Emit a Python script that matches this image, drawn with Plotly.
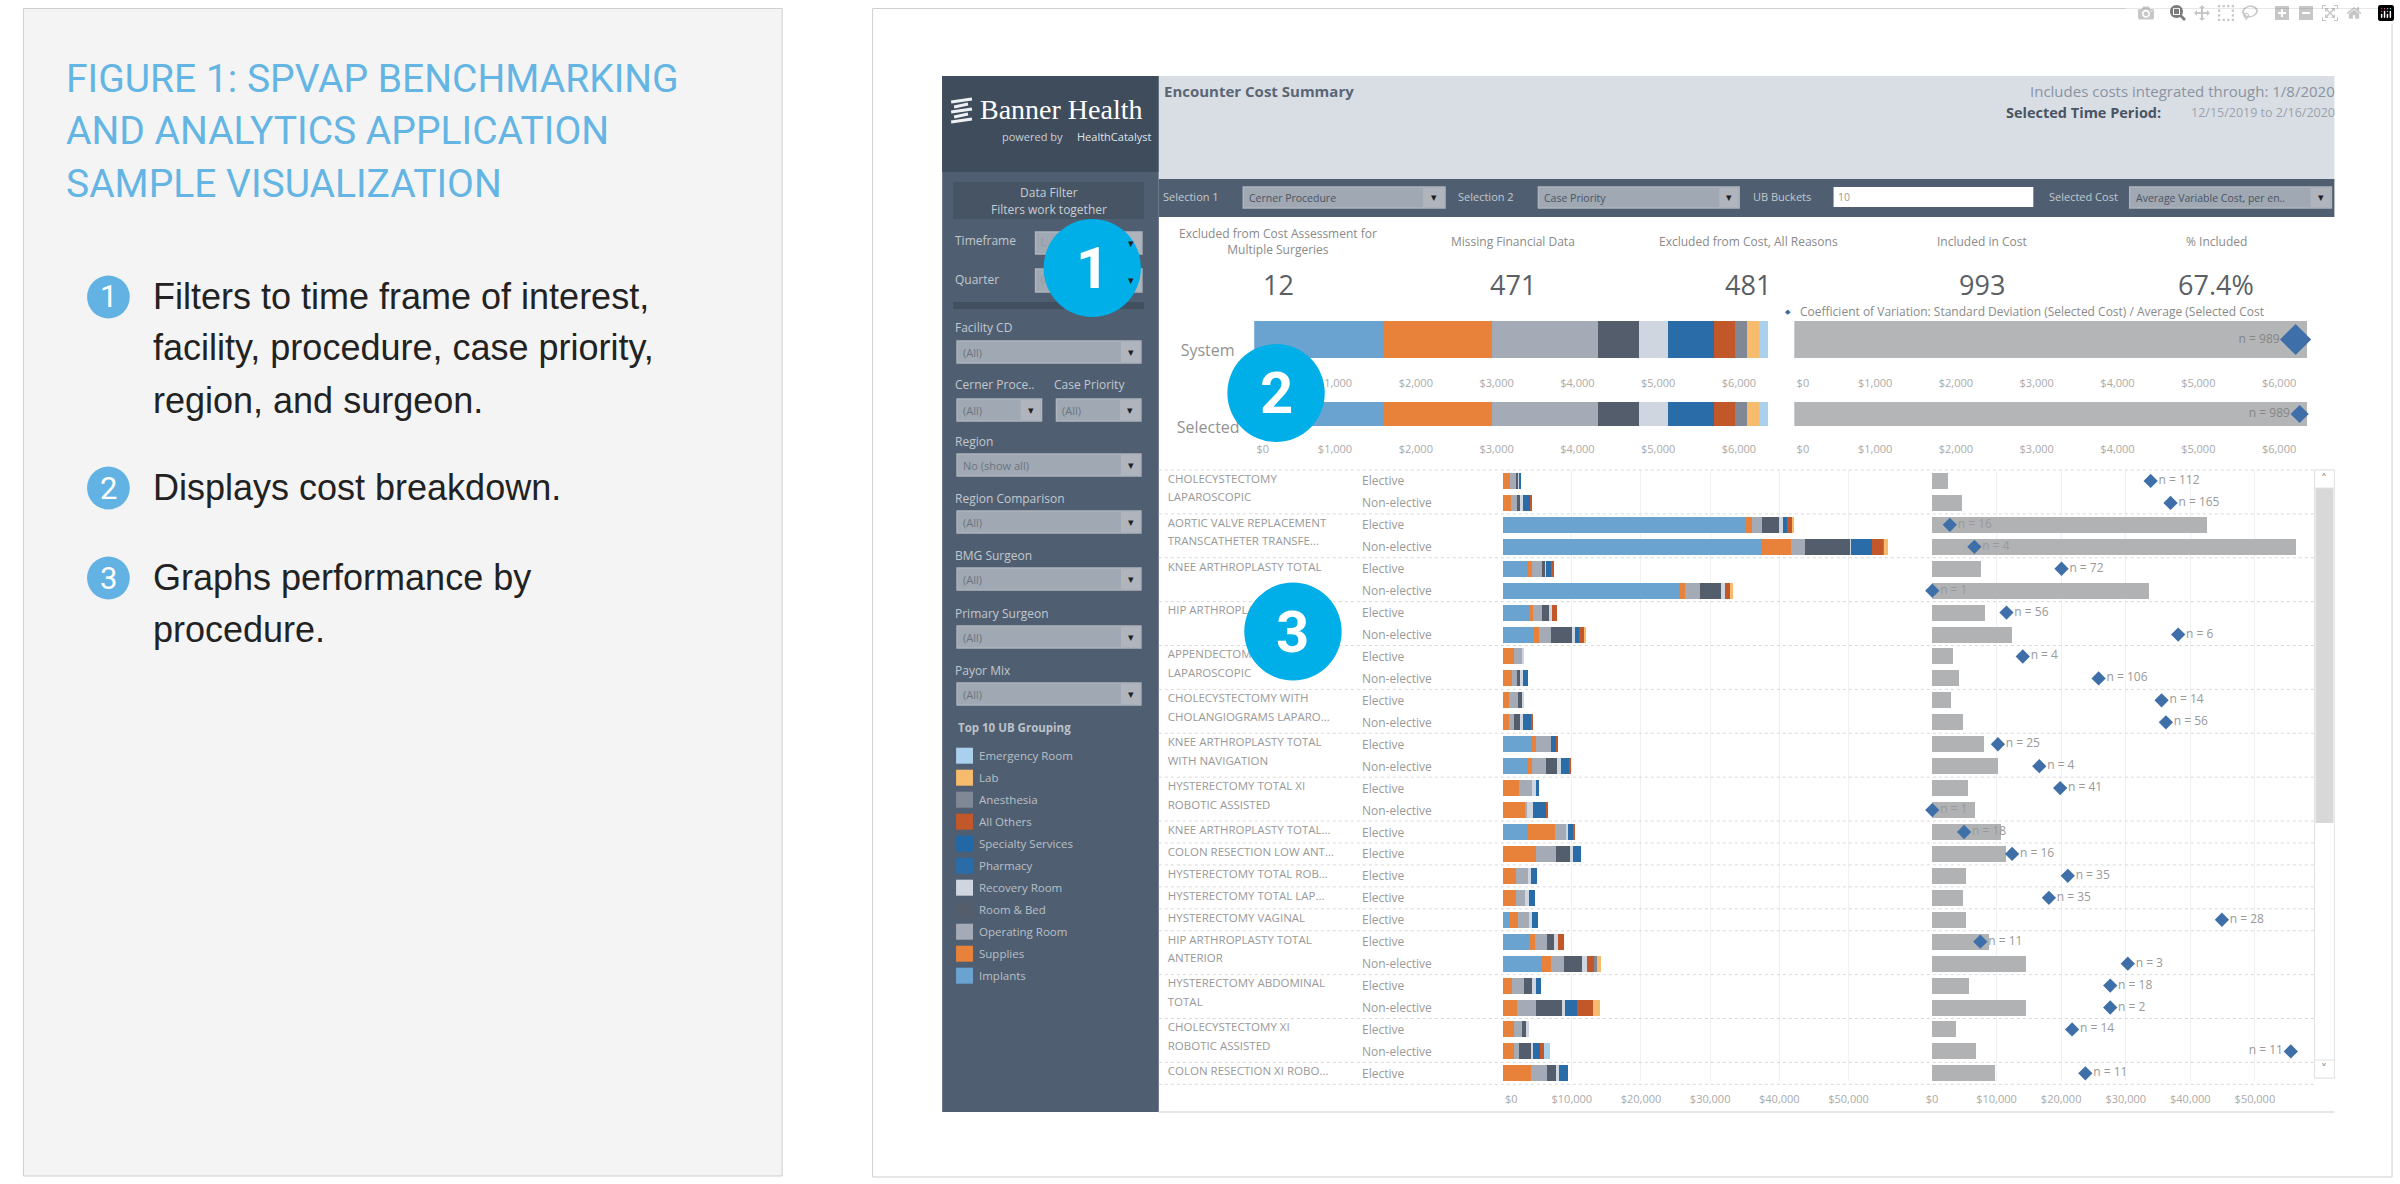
import plotly.graph_objects as go

W, H = 2400, 1184
FONT = "Open Sans"
GRAY = "#9a9a9a"

# top summary
SUMMARY_TITLES = ["Excluded from Cost Assessment for<br>Multiple Surgeries", "Missing Financial Data",
                  "Excluded from Cost, All Reasons", "Included in Cost", "% Included"]
SUMMARY_VALUES = ["12", "471", "481", "993", "67.4%"]

# UB groups, bottom of the stack first
IMPLANTS = [0, 0, 35040, 37530, 3670, 25660, 3810, 4400, 0, 0, 0, 0, 4100, 3450, 0, 0, 3590, 0, 0, 0, 1030, 3810, 5570, 0, 0, 0, 0, 0]
SUPPLIES = [1030, 1170, 1030, 4100, 590, 730, 590, 880, 1610, 1320, 950, 950, 660, 810, 2420, 3300, 3960, 4840, 1910, 1910, 1170, 880, 1390, 1320, 2050, 1690, 1610, 4030]
OPERATING = [950, 880, 1470, 2050, 1470, 2200, 1320, 1760, 1170, 730, 1250, 660, 2200, 1980, 1830, 220, 1610, 2930, 1760, 1390, 1610, 1760, 1910, 1760, 2710, 1100, 730, 2420]
ROOM_BED = [220, 440, 2350, 6600, 370, 2930, 1030, 2930, 0, 440, 590, 950, 220, 1690, 0, 0, 0, 1910, 0, 0, 0, 1030, 2640, 1170, 3810, 590, 1760, 1320]
RECOVERY = [150, 440, 590, 150, 220, 590, 370, 440, 290, 440, 220, 440, 0, 440, 510, 880, 220, 440, 440, 510, 440, 590, 660, 510, 510, 370, 290, 440]
PHARMACY = [290, 1100, 590, 2930, 730, 0, 0, 590, 0, 730, 0, 1030, 510, 1170, 510, 1830, 730, 1170, 880, 810, 880, 0, 0, 730, 1610, 0, 950, 1250]
OTHERS = [0, 220, 730, 1610, 440, 730, 810, 730, 0, 0, 0, 370, 220, 290, 0, 370, 370, 0, 0, 0, 0, 730, 1030, 0, 2350, 0, 660, 0]
ANESTHESIA = [0, 0, 0, 220, 0, 0, 0, 0, 0, 0, 0, 0, 0, 0, 0, 0, 0, 0, 0, 0, 0, 0, 440, 0, 0, 0, 0, 0]
LAB = [0, 0, 370, 510, 0, 440, 0, 290, 0, 0, 0, 0, 0, 0, 0, 0, 0, 0, 0, 0, 0, 0, 510, 0, 1100, 0, 0, 0]
ER = [0, 0, 0, 0, 0, 0, 0, 0, 0, 0, 0, 0, 0, 0, 0, 0, 0, 0, 0, 0, 0, 0, 0, 0, 0, 0, 880, 0]

SYSTEM_COST = [1611, 1328, 1316, 504, 364, 570, 253, 154, 148, 106]
SELECTED_COST = [1611, 1328, 1316, 504, 364, 570, 253, 154, 148, 106]
CV_TOTAL = 6347
CV_SYSTEM, CV_SELECTED = 6205, 6255
N_TOTAL = 989

GROUP_NAMES = ["Implants", "Supplies", "Operating Room", "Room & Bed", "Recovery Room",
               "Pharmacy", "All Others", "Anesthesia", "Lab", "Emergency Room"]
GROUP_VALUES = [IMPLANTS, SUPPLIES, OPERATING, ROOM_BED, RECOVERY, PHARMACY, OTHERS, ANESTHESIA, LAB, ER]
GROUP_COLORS = ["#6aa3d0", "#e8823a", "#a4abb7", "#535d6b", "#d0d6e0", "#2a6ca8", "#c2572a", "#7f8894", "#f6bb6c", "#a9d0ec"]

LEGEND_NAMES = ["Emergency Room", "Lab", "Anesthesia", "All Others", "Specialty Services", "Pharmacy",
                "Recovery Room", "Room & Bed", "Operating Room", "Supplies", "Implants"]
LEGEND_COLORS = ["#a9d0ec", "#f6bb6c", "#7f8894", "#c2572a", "#2267a6", "#2a6ca8", "#d0d6e0", "#535d6b", "#a4abb7", "#e8823a", "#6aa3d0"]

# procedures and rows
PROCEDURES = [["CHOLECYSTECTOMY", "LAPAROSCOPIC"], ["AORTIC VALVE REPLACEMENT", "TRANSCATHETER TRANSFE..."],
              ["KNEE ARTHROPLASTY TOTAL"], ["HIP ARTHROPLASTY TOTAL"], ["APPENDECTOMY", "LAPAROSCOPIC"],
              ["CHOLECYSTECTOMY WITH", "CHOLANGIOGRAMS LAPARO..."], ["KNEE ARTHROPLASTY TOTAL", "WITH NAVIGATION"],
              ["HYSTERECTOMY TOTAL XI", "ROBOTIC ASSISTED"], ["KNEE ARTHROPLASTY TOTAL..."], ["COLON RESECTION LOW ANT..."],
              ["HYSTERECTOMY TOTAL ROB..."], ["HYSTERECTOMY TOTAL LAP..."], ["HYSTERECTOMY VAGINAL"],
              ["HIP ARTHROPLASTY TOTAL", "ANTERIOR"], ["HYSTERECTOMY ABDOMINAL", "TOTAL"],
              ["CHOLECYSTECTOMY XI", "ROBOTIC ASSISTED"], ["COLON RESECTION XI ROBO..."]]
PROCEDURE_ROWS = [2, 2, 2, 2, 2, 2, 2, 2, 1, 1, 1, 1, 1, 2, 2, 2, 1]
PRIORITIES = ["Elective", "Non-elective"]

CV_BARS = [2510, 4670, 42580, 56330, 7590, 33650, 8260, 12470, 3230, 4160, 2980, 4870, 8000, 10160,
           5540, 6720, 10670, 11540, 5230, 4870, 5340, 8870, 14520, 5690, 14520, 3800, 6870, 9800]
CV_POINTS = [33860, 36940, 2770, 6570, 20060, 50, 11540, 38120, 14060, 25800, 35550, 36220, 10210, 16620,
             19850, 50, 4980, 12410, 21030, 18110, 44890, 7490, 30320, 27600, 27600, 21700, 55560, 23750]
N_COUNTS = [112, 165, 16, 4, 72, 1, 56, 6, 4, 106, 14, 56, 25, 4, 41, 1, 18, 16, 35, 35, 28, 11, 3, 18, 2, 14, 11, 11]

TOP_TICKS = [0, 1000, 2000, 3000, 4000, 5000, 6000]
TOP_LABELS = ["\u00a0\u00a0\u00a0\u00a0\u00a0\u00a0$0", "$1,000", "$2,000", "$3,000", "$4,000", "$5,000", "$6,000"]
ROW_TICKS = [0, 10000, 20000, 30000, 40000, 50000]
ROW_LABELS = ["$0", "$10,000", "$20,000", "$30,000", "$40,000", "$50,000"]

# sidebar filters: label, shown value
FILTERS = [("Facility CD", "(All)"), ("Region", "No (show all)"), ("Region Comparison", "(All)"),
           ("BMG Surgeon", "(All)"), ("Primary Surgeon", "(All)"), ("Payor Mix", "(All)")]
FILTER_TOPS = [341, 454, 511, 568, 626, 683]

shapes, annotations = [], []


def fx(p):
    return p / W


def fy(p):
    return 1 - p / H


def rect(x0, y0, x1, y1, fill, line=None, layer="below", width=1):
    shapes.append(dict(type="rect", xref="paper", yref="paper", x0=fx(x0), x1=fx(x1), y0=fy(y0), y1=fy(y1),
                       fillcolor=fill, line=dict(color=line or fill, width=width if line else 0), layer=layer))


def hline(x0, x1, y, color, dash="solid", width=1, layer="below"):
    shapes.append(dict(type="line", xref="paper", yref="paper", x0=fx(x0), x1=fx(x1), y0=fy(y), y1=fy(y),
                       line=dict(color=color, width=width, dash=dash), layer=layer))


def circle(cx, cy, r, fill):
    shapes.append(dict(type="circle", xref="paper", yref="paper", x0=fx(cx - r), x1=fx(cx + r), y0=fy(cy + r), y1=fy(cy - r),
                       fillcolor=fill, line=dict(width=0), layer="above"))


def label(x, y, text, size, color, anchor="left", family=FONT):
    annotations.append(dict(xref="paper", yref="paper", x=fx(x), y=fy(y), text=text, showarrow=False, xanchor=anchor,
                            yanchor="middle", align=anchor, borderpad=0,
                            font=dict(family=family, size=size, color=color)))


def dropdown(x0, y0, x1, y1, text, arrow_x):
    rect(x0, y0, x1, y1, "#a0a8b3", "#aeb4bc", width=1.5)
    rect(arrow_x, y0 + 1, x1 - 1, y1 - 1, "#b0b5bd")
    label((arrow_x + x1) / 2, (y0 + y1) / 2, "\u25be", 11, "#1f1f1f", "center", "DejaVu Sans")
    return (x0 + 5, (y0 + y1) / 2, text)


# panels
rect(8.5, 8.5, 772, 1176, "#f4f4f4", "#cfcfcf")
rect(863, 8.5, 2392, 1177, "#ffffff", "#cfcfcf")

# left panel text
TITLE_LINES = ["FIGURE 1: SPVAP BENCHMARKING", "AND ANALYTICS APPLICATION", "SAMPLE VISUALIZATION"]
for y, line in zip([79, 131, 184], TITLE_LINES):
    label(50, y, line, 39, "#64b5e4", family="Roboto")
NOTES = [(297, "1", ["Filters to time frame of interest,", "facility, procedure, case priority,", "region, and surgeon."]),
         (488, "2", ["Displays cost breakdown."]),
         (578, "3", ["Graphs performance by", "procedure."])]
for cy, num, lines in NOTES:
    circle(94, cy, 21.5, "#62b3e3")
    label(94, cy, num, 31, "#ffffff", "center", "Roboto")
    for i, line in enumerate(lines):
        label(138, cy - 1 + i * 52, line, 36, "#222222", family="Liberation Sans")

# dashboard frame
rect(933, 76, 1151, 1112, "#4f5f71")
rect(933, 76, 1151, 172, "#3f4c5c")
rect(1151, 76, 2334, 180, "#d9dee5")
rect(1151, 179, 2334, 217, "#4f5f71")
hline(1151, 2334, 1112, "#e6e6e6", width=2)

# logo
for i, y in enumerate([101, 106, 111, 116, 121]):
    shapes.append(dict(type="line", xref="paper", yref="paper", x0=fx(942 + i % 2 * 3), x1=fx(963 - i % 2 * 4), y0=fy(y + 1), y1=fy(y - 2),
                       line=dict(color="#eef0f3", width=3), layer="below"))
label(970, 110, "Banner Health", 28, "#ffffff", family="Liberation Serif")
label(992, 137, "powered by", 11, "#c8ced6")
label(1068, 137, "HealthCatalyst", 11, "#dfe3e8")

# header
label(1155, 91, "<b>Encounter Cost Summary</b>", 15, "#5a6675")
label(2336, 91, "Includes costs integrated through: 1/8/2020", 15, "#8b93a0", "right")
label(2160, 113, "<b>Selected Time Period:</b>", 14.5, "#4a5563", "right")
label(2336, 113, "12/15/2019 to 2/16/2020", 12.5, "#9aa2ae", "right")

# selection bar
BAR_TEXT = "#c3c8cf"
label(1154, 196, "Selection 1", 11, BAR_TEXT)
label(1451, 196, "Selection 2", 11, BAR_TEXT)
label(1748, 196, "UB Buckets", 11, BAR_TEXT)
label(2046, 196, "Selected Cost", 11, BAR_TEXT)
for x0, x1, ax, text in [(1236, 1439, 1417, "Cerner Procedure"), (1533, 1735, 1715, "Case Priority"),
                         (2128, 2331, 2310, "Average Variable Cost, per en..")]:
    x, y, t = dropdown(x0, 187, x1, 208, text, ax)
    label(x, y, t, 10.5, "#4a5563")
rect(1830, 187, 2031, 207, "#ffffff")
label(1833, 197, "10", 10.5, "#9a9a9a")

# sidebar
rect(944, 182, 1136, 219, "#465463")
label(1040, 192, "Data Filter", 12, "#c9ced5", "center")
label(1040, 209.5, "Filters work together", 12, "#c9ced5", "center")
label(945, 240, "Timeframe", 12, "#c3c8cf")
label(945, 279, "Quarter", 12, "#c3c8cf")
rect(944, 302, 1136, 309, "#414f5e")

hidden_text = []  # text the big circles sit on top of, drawn as a trace
hidden_text.append(dropdown(1027, 232, 1134, 254, "L", 1113))
hidden_text.append(dropdown(1027, 269, 1134, 292, "(All)", 1113))
for (name, value), top in zip(FILTERS, FILTER_TOPS):
    label(945, top - 13, name, 12, "#c3c8cf")
    x, y, t = dropdown(948, top, 1133, top + 22, value, 1113)
    label(x, y, t, 11, "#6b7480")
label(945, 385, "Cerner Proce..", 12, "#c3c8cf")
label(1045, 385, "Case Priority", 12, "#c3c8cf")
for x0, x1, ax in [(948, 1033, 1012), (1048, 1133, 1112)]:
    x, y, t = dropdown(x0, 399, x1, 421, "(All)", ax)
    label(x, y, t, 11, "#6b7480")

label(948, 727, "<b>Top 10 UB Grouping</b>", 11.5, "#bcc2ca")
for i, (name, color) in enumerate(zip(LEGEND_NAMES, LEGEND_COLORS)):
    y = 755.7 + i * 22
    rect(947, y - 8, 964, y + 8, color)
    label(969, y, name, 11.5, "#b9bfc7")

# summary row
for cx, title, value in zip([1271, 1507, 1744, 1979, 2215], SUMMARY_TITLES, SUMMARY_VALUES):
    label(cx, 241.5, title, 12, "#8a8a8a", "center")
    label(cx, 284, value, 27, "#5a5f66", "center")
label(1784, 312, "\u25c6", 7, "#3c6aa8", "center", "DejaVu Sans")
label(1795, 312, "Coefficient of Variation: Standard Deviation (Selected Cost) / Average (Selected Cost", 12, "#8a8a8a")

fig = go.Figure()


def x_axis(px0, px1, scale, anchor, ticks, text, ticklen, grid=False):
    return dict(domain=[fx(px0), fx(px1)], range=[0, (px1 - px0) / scale], anchor=anchor, tickvals=ticks, ticktext=text,
                ticks="outside", ticklen=ticklen, tickcolor="rgba(0,0,0,0)", showline=False, zeroline=False,
                showgrid=grid, gridcolor="#f1f1f1", tickfont=dict(family=FONT, size=11, color="#aaaaaa"))


def y_axis(px0, px1, rng, anchor):
    return dict(domain=[fy(px1), fy(px0)], range=rng, anchor=anchor, visible=False)


# system / selected stacked bars and cv bars
TOP_PANELS = [("x", "y", "x2", "y2", 321, 358, SYSTEM_COST, CV_SYSTEM, 24, 15, "n = %d" % N_TOTAL),
              ("x3", "y3", "x4", "y4", 402, 426, SELECTED_COST, CV_SELECTED, 14, 15, "n = %d" % N_TOTAL)]
axes = {}
for n, (xa, ya, xb, yb, top, bottom, cost, cv, size, ticklen, n_text) in enumerate(TOP_PANELS):
    for name, value, color in zip(GROUP_NAMES, cost, GROUP_COLORS):
        fig.add_trace(go.Bar(x=[value], y=[0], width=1, orientation="h", name=name, marker=dict(color=color, line=dict(width=0)),
                             xaxis=xa, yaxis=ya))
    fig.add_trace(go.Bar(x=[CV_TOTAL], y=[0], width=1, orientation="h", marker=dict(color="#b3b5b7", line=dict(width=0)),
                         xaxis=xb, yaxis=yb))
    fig.add_trace(go.Scatter(x=[cv], y=[0], mode="markers+text", text=[n_text], textposition="middle left",
                             textfont=dict(family=FONT, size=12, color="#858585"), cliponaxis=False,
                             marker=dict(symbol="diamond", size=size, color="#3f6fa8"), xaxis=xb, yaxis=yb))
    suffix = ["", "2", "3", "4"]
    ida, idb = suffix[n * 2], suffix[n * 2 + 1]
    axes["xaxis" + ida] = x_axis(1247, 1780, 0.0813, ya, TOP_TICKS, TOP_LABELS, ticklen if n == 0 else 13)
    axes["yaxis" + ida] = y_axis(top, bottom, [-0.5, 0.5], xa)
    axes["xaxis" + idb] = x_axis(1790.5, 2320, 0.0813, yb, TOP_TICKS, TOP_LABELS, ticklen if n == 0 else 13)
    axes["yaxis" + idb] = y_axis(top, bottom, [-0.5, 0.5], xb)

# procedure rows
ROW_H = 21.94
ROW_TOP = 470
rows = list(range(len(CV_BARS)))
for name, values, color in zip(GROUP_NAMES, GROUP_VALUES, GROUP_COLORS):
    fig.add_trace(go.Bar(x=values, y=rows, orientation="h", name=name, marker=dict(color=color, line=dict(width=0)),
                         xaxis="x5", yaxis="y5"))
fig.add_trace(go.Bar(x=CV_BARS, y=rows, orientation="h", marker=dict(color="#b0b2b4", line=dict(width=0)),
                     xaxis="x6", yaxis="y6"))
n_pos = ["middle left" if x > 50000 else "middle right" for x in CV_POINTS]
fig.add_trace(go.Scatter(x=CV_POINTS, y=rows, mode="markers+text", text=["n = %d" % c for c in N_COUNTS], textposition=n_pos,
                         textfont=dict(family=FONT, size=12, color="#999999"), cliponaxis=False,
                         marker=dict(symbol="diamond", size=11, color="#3f6fa8"), xaxis="x6", yaxis="y6"))
row_range = [27.35, -0.5]
axes["xaxis5"] = x_axis(1497, 1920, 0.00696, "y5", ROW_TICKS, ["\u00a0\u00a0\u00a0\u00a0\u00a0\u00a0$0"] + ROW_LABELS[1:], 8, True)
axes["yaxis5"] = y_axis(ROW_TOP, 1081, row_range, "x5")
axes["xaxis6"] = x_axis(1929, 2314, 0.0065, "y6", ROW_TICKS, ROW_LABELS, 8, True)
axes["yaxis6"] = y_axis(ROW_TOP, 1081, row_range, "x6")

# procedure names, priorities and dotted separators
row = 0
hline(1151, 2314, ROW_TOP, "#d8d8d8", "dot", layer="above")
priority_x, priority_y, priority_t = [], [], []
for lines, count in zip(PROCEDURES, PROCEDURE_ROWS):
    center = ROW_TOP + (row + 0.5) * ROW_H
    for i, line in enumerate(lines):
        hidden_text.append((1160, center - 1 + i * 18.5, line))
    for i in range(count):
        label(1354, center + i * ROW_H, PRIORITIES[i], 12, GRAY)
    row += count
    hline(1151, 2314, ROW_TOP + row * ROW_H, "#d8d8d8", "dot", layer="above")

# full page pixel axis, only for text that the circles cover
hx, hy, ht = zip(*hidden_text)
fig.add_trace(go.Scatter(x=hx, y=hy, text=ht, mode="text", textposition="middle right", cliponaxis=False,
                         textfont=dict(family=FONT, size=11.5, color="#999999"), xaxis="x7", yaxis="y7"))
fig.add_trace(go.Scatter(x=[1173, 1169], y=[352, 429], text=["System", "Selected"], mode="text", textposition="middle right",
                         cliponaxis=False, textfont=dict(family=FONT, size=16, color="#929292"), xaxis="x7", yaxis="y7"))
axes["xaxis7"] = dict(domain=[0, 1], range=[0, W], anchor="y7", visible=False)
axes["yaxis7"] = dict(domain=[0, 1], range=[H, 0], anchor="x7", visible=False)

# scrollbar
rect(2314, 470, 2334, 1078, "#ffffff", "#e2e2e2", layer="above")
rect(2315, 488, 2333, 823, "#d8d8d8", layer="above")
rect(2314, 470, 2334, 488, "#ffffff", "#e2e2e2", layer="above")
rect(2314, 1060, 2334, 1078, "#ffffff", "#e2e2e2", layer="above")
label(2324, 479, "\u02c4", 12, "#8a8a8a", "center", "DejaVu Sans")
label(2324, 1069, "\u02c5", 12, "#8a8a8a", "center", "DejaVu Sans")

# numbered callouts
for cx, cy, num in [(1084, 268, "1"), (1269, 393, "2"), (1286, 631.5, "3")]:
    circle(cx, cy, 49, "#00aee8")
    label(cx, cy, "<b>%s</b>" % num, 58, "#ffffff", "center", "Roboto")

fig.update_layout(width=W, height=H, margin=dict(l=0, r=0, t=0, b=0), paper_bgcolor="#ffffff", plot_bgcolor="rgba(0,0,0,0)",
                  barmode="stack", bargap=0.27, showlegend=False, hovermode=False, shapes=shapes, annotations=annotations, **axes)
fig.write_html("out.html", post_script="document.body.style.margin='0';")
